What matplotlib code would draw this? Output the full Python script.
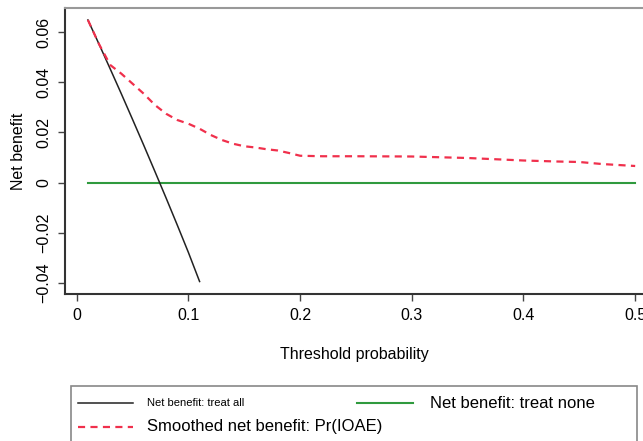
import matplotlib.pyplot as plt
from matplotlib.lines import Line2D
from matplotlib.patches import Rectangle

plt.rcParams['font.family'] = ['Liberation Sans', 'DejaVu Sans']

# treat all
pt_all = [0.01, 0.02, 0.03, 0.04, 0.05, 0.06, 0.07, 0.08, 0.09, 0.10, 0.11]
nb_all = [0.065, 0.0553, 0.0454, 0.0354, 0.0252, 0.0149, 0.0044, -0.0062, -0.017, -0.028, -0.0396]

# treat none
pt_none = [0.01, 0.50]
nb_none = [0.0, 0.0]

# smoothed net benefit of the model
pt_model = [0.01, 0.02, 0.03, 0.04, 0.05, 0.06, 0.07, 0.08, 0.09, 0.10, 0.11, 0.12,
            0.13, 0.14, 0.15, 0.16, 0.17, 0.18, 0.19, 0.20, 0.22, 0.25, 0.30, 0.35,
            0.40, 0.43, 0.45, 0.47, 0.50]
nb_model = [0.065, 0.0553, 0.047, 0.0435, 0.0395, 0.0355, 0.031, 0.0275, 0.025, 0.0235,
            0.0215, 0.019, 0.017, 0.0155, 0.0145, 0.014, 0.0133, 0.0128, 0.0118, 0.0107,
            0.0105, 0.0105, 0.0104, 0.0098, 0.0088, 0.0084, 0.0082, 0.0074, 0.0066]

x_ticks = [0, 0.1, 0.2, 0.3, 0.4, 0.5]
x_labels = ['0', '0.1', '0.2', '0.3', '0.4', '0.5']
y_ticks = [-0.04, -0.02, 0, 0.02, 0.04, 0.06]
y_labels = ['\u22120.04', '\u22120.02', '0', '0.02', '0.04', '0.06']

RED = '#f0304c'
GREEN = '#2f9a3e'

fig = plt.figure(figsize=(6.43, 4.41), dpi=100)
ax = fig.add_axes([0.1011, 0.3333, 0.8989, 0.6486])

ax.plot(pt_none, nb_none, color=GREEN, lw=1.5)
ax.plot(pt_all, nb_all, color='#222222', lw=1.1)
ax.plot(pt_model, nb_model, color=RED, lw=1.6, dashes=(3.2, 2.4))

ax.set_xlim(-0.0105, 0.507)
ax.set_ylim(-0.0446, 0.0698)

ax.set_xticks(x_ticks)
ax.set_xticklabels(x_labels)
ax.set_yticks(y_ticks)
ax.set_yticklabels(y_labels, rotation=90, va='center')

ax.tick_params(axis='both', labelsize=11.5, length=5, width=1, color='#444444', pad=5)
ax.set_xlabel('Threshold probability', fontsize=11.5, labelpad=17)
ax.set_ylabel('Net benefit', fontsize=11.5, labelpad=7)

ax.spines['right'].set_visible(False)
ax.spines['top'].set_color('#999999')
ax.spines['top'].set_linewidth(1.5)
for s in ['left', 'bottom']:
    ax.spines[s].set_color('#333333')
    ax.spines[s].set_linewidth(1.5)

# legend drawn by hand (mixed font sizes in the original)
W, H = 643.0, 441.0

def fx(px):
    return px / W

def fy(py):
    return 1 - py / H

fig.add_artist(Rectangle((fx(71), fy(460)), fx(637) - fx(71), fy(386) - fy(460),
                         transform=fig.transFigure, fill=False, edgecolor='#888888', lw=1.2))
fig.add_artist(Line2D([fx(78), fx(133)], [fy(403), fy(403)], transform=fig.transFigure,
                      color='#222222', lw=1.1))
fig.text(fx(147), fy(403), 'Net benefit: treat all', fontsize=8, va='center', ha='left')
fig.add_artist(Line2D([fx(357), fx(413)], [fy(403), fy(403)], transform=fig.transFigure,
                      color=GREEN, lw=1.5))
fig.text(fx(430), fy(403), 'Net benefit: treat none', fontsize=12, va='center', ha='left')
fig.add_artist(Line2D([fx(78), fx(133)], [fy(427), fy(427)], transform=fig.transFigure,
                      color=RED, lw=1.6, dashes=(3.2, 2.4)))
fig.text(fx(147), fy(427), 'Smoothed net benefit: Pr(IOAE)', fontsize=12, va='center', ha='left')

fig.savefig('out.png', dpi=100)
